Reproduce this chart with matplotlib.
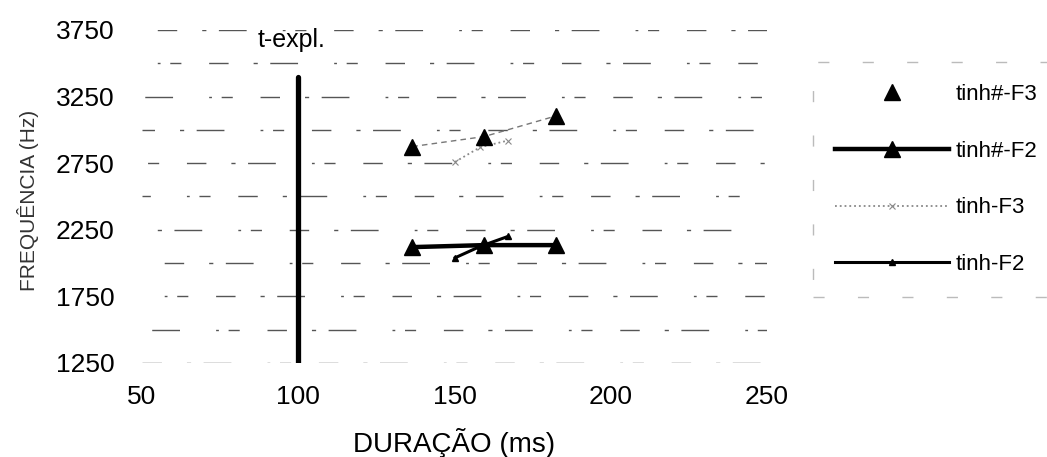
import matplotlib
matplotlib.use("Agg")
import matplotlib.pyplot as plt

plt.rcParams['font.family'] = ['Liberation Sans', 'DejaVu Sans']

# Durations (ms) and formant frequencies (Hz)
tinh_hash_x = [136.5, 159.5, 182.5]
tinh_hash_f3 = [2875, 2950, 3105]
tinh_hash_f2 = [2120, 2135, 2135]

tinh_x = [150.2, 158.2, 167.1]
tinh_f3 = [2760, 2870, 2920]
tinh_f2 = [2040, 2125, 2200]

# explosion instant marker
texpl_x = [100, 100]
texpl_y = [1250, 3400]
texpl_label = "t-expl."
texpl_label_pos = (98, 3675)

x_ticks = [50, 100, 150, 200, 250]
y_ticks = [1250, 1750, 2250, 2750, 3250, 3750]
y_grid = [1250, 1500, 1750, 2000, 2250, 2500, 2750, 3000, 3250, 3500, 3750]

fig = plt.figure(figsize=(10.47, 4.57), dpi=100)
ax = fig.add_axes([142 / 1047, 1 - 363 / 457, (767 - 142) / 1047, (363 - 30) / 457])
ax.set_xlim(50, 250)
ax.set_ylim(1250, 3750)

for s in ax.spines.values():
    s.set_visible(False)

# broken horizontal grid, each row with a shifted dash phase
dash_seq = (14, 18, 3, 9, 20, 26, 2, 7, 8, 20)
for i, g in enumerate(y_grid):
    ax.axhline(g, color='#555555', lw=1.0, linestyle=((i * 37) % 127, dash_seq), zorder=1)

ax.set_xticks(x_ticks)
ax.set_yticks(y_ticks)
ax.tick_params(axis='both', length=0, labelsize=19)
ax.tick_params(axis='x', pad=16)
ax.tick_params(axis='y', pad=20)

# explosion line
ax.plot(texpl_x, texpl_y, color='black', lw=3.8, solid_capstyle='round', zorder=3)
ax.text(*texpl_label_pos, texpl_label, fontsize=18, ha='center', va='center')

# faint connecting line for tinh#-F3 (kept out of the legend)
ax.plot(tinh_hash_x, tinh_hash_f3, color='#777777', lw=1.0, linestyle=(0, (4, 3)), zorder=2)
ax.plot(tinh_hash_x, tinh_hash_f3, linestyle='none', marker='^', ms=11,
        color='black', label='tinh#-F3', zorder=4)
ax.plot(tinh_hash_x, tinh_hash_f2, color='black', lw=3.2, marker='^', ms=11,
        label='tinh#-F2', zorder=4)
ax.plot(tinh_x, tinh_f3, color='#888888', lw=1.3, linestyle=':', marker='x', ms=4,
        mew=0.8, label='tinh-F3', zorder=3)
ax.plot(tinh_x, tinh_f2, color='black', lw=2.2, marker='^', ms=4,
        label='tinh-F2', zorder=3)

leg = ax.legend(loc='upper left', bbox_to_anchor=(813 / 1047, 1 - 62 / 457),
                bbox_transform=fig.transFigure, borderaxespad=0,
                fontsize=16, handlelength=5.1, handletextpad=0.3,
                labelspacing=1.6, borderpad=1.0, frameon=True, fancybox=False)
fr = leg.get_frame()
fr.set_edgecolor('#aaaaaa')
fr.set_linestyle((0, (8, 24)))
fr.set_linewidth(1.0)

fig.text(454 / 1047, 1 - 443 / 457, 'DURAÇÃO (ms)', fontsize=20, ha='center', va='center')
fig.text(28 / 1047, 1 - 200 / 457, 'FREQUÊNCIA (Hz)', fontsize=15, rotation=90,
         ha='center', va='center', color='#333333')

fig.savefig('out.png', dpi=100)
